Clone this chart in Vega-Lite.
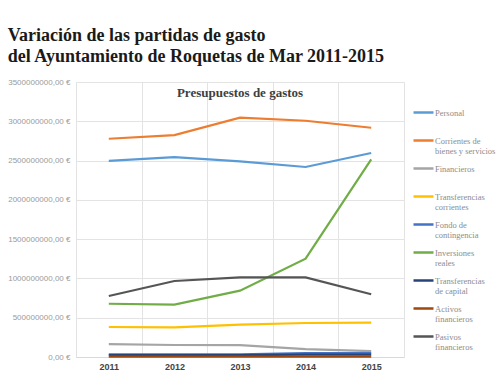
{
  "$schema": "https://vega.github.io/schema/vega-lite/v6.json",
  "autosize": "none",
  "width": 328,
  "height": 275,
  "padding": {"left": 76, "top": 82, "right": 96, "bottom": 28},
  "background": "white",
  "config": {
    "view": {"stroke": null},
    "locale": {"number": {"decimal": ",", "thousands": ".", "grouping": [3], "currency": ["", " €"]}}
  },
  "title": {
    "text": ["Variación de las partidas de gasto", "del Ayuntamiento de Roquetas de Mar 2011-2015"],
    "anchor": "start",
    "frame": "bounds",
    "font": "Liberation Serif",
    "fontSize": 18,
    "fontWeight": "bold",
    "color": "#1a1a1a",
    "lineHeight": 21,
    "offset": 12
  },
  "data": {
    "values": [
      {"year": "2011", "serie": "Personal", "value": 2495000000},
      {"year": "2012", "serie": "Personal", "value": 2545000000},
      {"year": "2013", "serie": "Personal", "value": 2490000000},
      {"year": "2014", "serie": "Personal", "value": 2418000000},
      {"year": "2015", "serie": "Personal", "value": 2596000000},
      {"year": "2011", "serie": "Corrientes de bienes y servicios", "value": 2778000000},
      {"year": "2012", "serie": "Corrientes de bienes y servicios", "value": 2825000000},
      {"year": "2013", "serie": "Corrientes de bienes y servicios", "value": 3046000000},
      {"year": "2014", "serie": "Corrientes de bienes y servicios", "value": 3007000000},
      {"year": "2015", "serie": "Corrientes de bienes y servicios", "value": 2918000000},
      {"year": "2011", "serie": "Financieros", "value": 165000000},
      {"year": "2012", "serie": "Financieros", "value": 153000000},
      {"year": "2013", "serie": "Financieros", "value": 150000000},
      {"year": "2014", "serie": "Financieros", "value": 100000000},
      {"year": "2015", "serie": "Financieros", "value": 76000000},
      {"year": "2011", "serie": "Transferencias corrientes", "value": 382000000},
      {"year": "2012", "serie": "Transferencias corrientes", "value": 378000000},
      {"year": "2013", "serie": "Transferencias corrientes", "value": 411000000},
      {"year": "2014", "serie": "Transferencias corrientes", "value": 433000000},
      {"year": "2015", "serie": "Transferencias corrientes", "value": 437000000},
      {"year": "2011", "serie": "Fondo de contingencia", "value": 35000000},
      {"year": "2012", "serie": "Fondo de contingencia", "value": 35000000},
      {"year": "2013", "serie": "Fondo de contingencia", "value": 35000000},
      {"year": "2014", "serie": "Fondo de contingencia", "value": 50000000},
      {"year": "2015", "serie": "Fondo de contingencia", "value": 50000000},
      {"year": "2011", "serie": "Inversiones reales", "value": 678000000},
      {"year": "2012", "serie": "Inversiones reales", "value": 666000000},
      {"year": "2013", "serie": "Inversiones reales", "value": 844000000},
      {"year": "2014", "serie": "Inversiones reales", "value": 1251000000},
      {"year": "2015", "serie": "Inversiones reales", "value": 2516000000},
      {"year": "2011", "serie": "Transferencias de capital", "value": 25000000},
      {"year": "2012", "serie": "Transferencias de capital", "value": 25000000},
      {"year": "2013", "serie": "Transferencias de capital", "value": 25000000},
      {"year": "2014", "serie": "Transferencias de capital", "value": 30000000},
      {"year": "2015", "serie": "Transferencias de capital", "value": 30000000},
      {"year": "2011", "serie": "Activos financieros", "value": 6000000},
      {"year": "2012", "serie": "Activos financieros", "value": 6000000},
      {"year": "2013", "serie": "Activos financieros", "value": 6000000},
      {"year": "2014", "serie": "Activos financieros", "value": 6000000},
      {"year": "2015", "serie": "Activos financieros", "value": 6000000},
      {"year": "2011", "serie": "Pasivos financieros", "value": 776000000},
      {"year": "2012", "serie": "Pasivos financieros", "value": 967000000},
      {"year": "2013", "serie": "Pasivos financieros", "value": 1014000000},
      {"year": "2014", "serie": "Pasivos financieros", "value": 1014000000},
      {"year": "2015", "serie": "Pasivos financieros", "value": 798000000}
    ]
  },
  "layer": [
    {
      "mark": {"type": "line", "strokeWidth": 2.2},
      "encoding": {
        "x": {
          "field": "year", "type": "ordinal", "title": null,
          "scale": {"type": "band", "paddingInner": 0, "paddingOuter": 0},
          "axis": {
            "tickBand": "extent", "ticks": false, "labelAngle": 0,
            "grid": true, "gridColor": "#e3e3e3", "domainColor": "#d9d9d9",
            "labelFont": "Liberation Sans", "labelFontSize": 9, "labelFontWeight": "bold",
            "labelColor": "#444444", "labelPadding": 5
          }
        },
        "y": {
          "field": "value", "type": "quantitative", "title": null,
          "scale": {"domain": [0, 3500000000], "nice": false},
          "axis": {
            "values": [0, 500000000, 1000000000, 1500000000, 2000000000, 2500000000, 3000000000, 3500000000],
            "format": "$.2f", "domain": false, "ticks": false, "labelOverlap": false,
            "grid": true, "gridColor": "#e3e3e3",
            "labelFont": "Liberation Sans", "labelFontSize": 8, "labelColor": "#9a9a9a",
            "labelPadding": 6
          }
        },
        "color": {
          "field": "serie", "type": "nominal",
          "scale": {
            "domain": ["Personal", "Corrientes de bienes y servicios", "Financieros", "Transferencias corrientes", "Fondo de contingencia", "Inversiones reales", "Transferencias de capital", "Activos financieros", "Pasivos financieros"],
            "range": ["#5B9BD5", "#ED7D31", "#A5A5A5", "#FFC000", "#4472C4", "#70AD47", "#264478", "#9E480E", "#555555"]
          },
          "legend": {
            "title": null,
            "orient": "none",
            "legendX": 336,
            "legendY": 19,
            "symbolType": "stroke",
            "symbolSize": 400,
            "symbolStrokeWidth": 2.5,
            "labelFont": "Liberation Serif",
            "labelFontSize": 8.5,
            "labelColor": "#8c8c8c",
            "labelBaseline": "middle",
            "labelOffset": 0,
            "rowPadding": 1,
            "labelExpr": "datum.label == 'Corrientes de bienes y servicios' ? ['Corrientes de', 'bienes y servicios'] : datum.label == 'Transferencias corrientes' ? ['Transferencias', 'corrientes'] : datum.label == 'Fondo de contingencia' ? ['Fondo de', 'contingencia'] : datum.label == 'Inversiones reales' ? ['Inversiones', 'reales'] : datum.label == 'Transferencias de capital' ? ['Transferencias', 'de capital'] : datum.label == 'Activos financieros' ? ['Activos', 'financieros'] : datum.label == 'Pasivos financieros' ? ['Pasivos', 'financieros'] : [datum.label, ' ']"
          }
        }
      }
    },
    {
      "data": {"values": [{}]},
      "mark": {"type": "text", "font": "Liberation Serif", "fontSize": 13, "fontWeight": "bold", "color": "#404040", "baseline": "middle"},
      "encoding": {
        "x": {
          "datum": "2013", "type": "ordinal",
          "axis": {
            "tickBand": "extent", "ticks": false, "labelAngle": 0,
            "grid": true, "gridColor": "#e3e3e3", "domainColor": "#d9d9d9",
            "labelFont": "Liberation Sans", "labelFontSize": 9, "labelFontWeight": "bold",
            "labelColor": "#444444", "labelPadding": 5
          }
        },
        "y": {
          "datum": 3360000000, "type": "quantitative",
          "axis": {
            "values": [0, 500000000, 1000000000, 1500000000, 2000000000, 2500000000, 3000000000, 3500000000],
            "format": "$.2f", "domain": false, "ticks": false, "labelOverlap": false,
            "grid": true, "gridColor": "#e3e3e3",
            "labelFont": "Liberation Sans", "labelFontSize": 8, "labelColor": "#9a9a9a",
            "labelPadding": 6
          }
        },
        "text": {"value": "Presupuestos de gastos"}
      }
    }
  ]
}
